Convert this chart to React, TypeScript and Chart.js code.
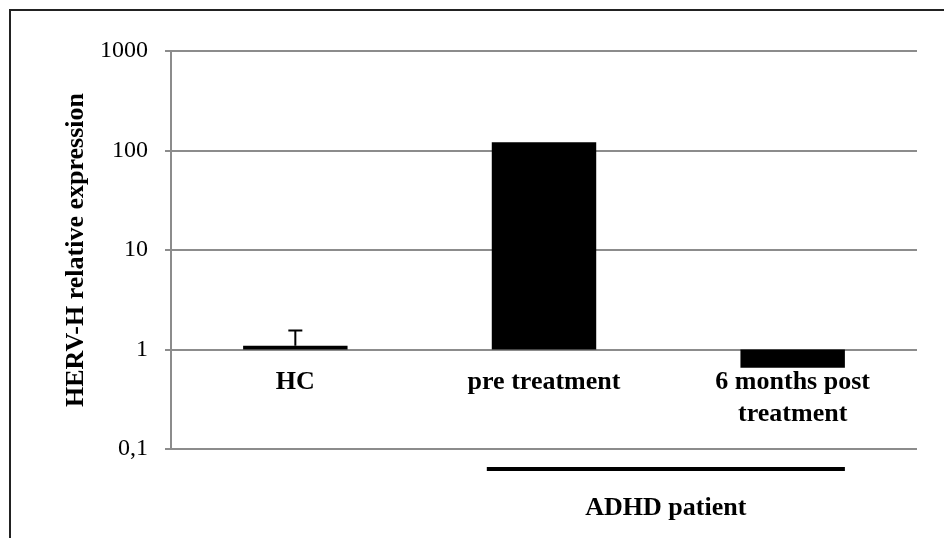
import React, { useEffect, useRef } from "react";
import { Chart, registerables } from "chart.js";

Chart.register(...registerables);

const CATEGORIES: (string | string[])[] = ["HC", "pre treatment", ["6 months post", "treatment"]];
const VALUES = [1.09, 121, 0.655];
const ERROR_TOP: (number | null)[] = [1.55, null, null];
const BAR_BASE = 1;
const Y_TICKS = [0.1, 1, 10, 100, 1000];
const Y_TICK_LABELS = ["0,1", "1", "10", "100", "1000"];
const Y_TITLE = "HERV-H relative expression";
const GROUP_LABEL = "ADHD patient";
const GROUP_FROM = 1;
const GROUP_TO = 2;

const FONT = "'Liberation Serif', 'Times New Roman', serif";
const GRID = "#8c8c8c";

const overlayPlugin = {
  id: "overlay",
  afterDatasetsDraw(chart: any) {
    const ctx = chart.ctx;
    const meta = chart.getDatasetMeta(0);
    const y = chart.scales.y;
    const x = chart.scales.x;
    ctx.save();
    ERROR_TOP.forEach((e, i) => {
      if (e == null) return;
      const bar = meta.data[i];
      const y1 = y.getPixelForValue(VALUES[i]);
      const y2 = y.getPixelForValue(e);
      ctx.strokeStyle = "#000";
      ctx.lineWidth = 2;
      ctx.beginPath();
      ctx.moveTo(bar.x, y1);
      ctx.lineTo(bar.x, y2);
      ctx.moveTo(bar.x - 7, y2);
      ctx.lineTo(bar.x + 7, y2);
      ctx.stroke();
    });
    const catW = (chart.chartArea.right - chart.chartArea.left) / CATEGORIES.length;
    const gx1 = x.getPixelForValue(GROUP_FROM) - catW * 0.23;
    const gx2 = x.getPixelForValue(GROUP_TO) + catW * 0.21;
    const gy = chart.chartArea.bottom + 20;
    ctx.fillStyle = "#000";
    ctx.fillRect(gx1, gy - 2, gx2 - gx1, 4);
    ctx.font = `bold 26px ${FONT}`;
    ctx.textAlign = "center";
    ctx.textBaseline = "middle";
    ctx.fillText(GROUP_LABEL, (gx1 + gx2) / 2, gy + 39);
    ctx.restore();
  },
};

export default function App() {
  const ref = useRef<HTMLCanvasElement>(null);
  useEffect(() => {
    if (!ref.current) return;
    const chart = new Chart(ref.current, {
      type: "bar",
      data: {
        labels: CATEGORIES as any,
        datasets: [
          {
            data: VALUES.map((v) => [BAR_BASE, v]) as any,
            backgroundColor: "#000",
            borderWidth: 0,
            barPercentage: 0.42,
            categoryPercentage: 1,
          },
        ],
      },
      options: {
        responsive: false,
        animation: false,
        devicePixelRatio: 1,
        layout: { padding: { left: 61, top: 51, right: 27, bottom: 89 } },
        plugins: { legend: { display: false }, tooltip: { enabled: false } },
        scales: {
          x: {
            position: { y: 1 } as any,
            grid: { display: false, drawTicks: false },
            border: { display: false },
            ticks: {
              color: "#000",
              padding: 17,
              maxRotation: 0,
              autoSkip: false,
              font: { family: FONT, size: 26, weight: "bold", lineHeight: 1.23 },
            },
          },
          y: {
            type: "logarithmic",
            min: 0.1,
            max: 1000,
            afterBuildTicks: (s: any) => {
              s.ticks = Y_TICKS.map((v) => ({ value: v }));
            },
            afterFit: (s: any) => {
              s.width = 110;
            },
            grid: { color: GRID, lineWidth: 2, tickLength: 6, drawTicks: true },
            border: { color: GRID, width: 2 },
            ticks: {
              color: "#000",
              padding: 17,
              font: { family: FONT, size: 24 },
              callback: (v: any) => {
                const i = Y_TICKS.indexOf(Number(v));
                return i >= 0 ? Y_TICK_LABELS[i] : "";
              },
            },
            title: {
              display: true,
              text: Y_TITLE,
              color: "#000",
              padding: 0,
              font: { family: FONT, size: 26, weight: "bold" },
            },
          },
        },
      },
      plugins: [overlayPlugin],
    });
    return () => chart.destroy();
  }, []);
  return (
    <div style={{ position: "absolute", left: 0, top: 0, width: 944, height: 538, background: "#fff", overflow: "hidden" }}>
      <div
        style={{
          position: "absolute",
          left: 9,
          top: 9,
          width: 960,
          height: 560,
          borderLeft: "2px solid #222",
          borderTop: "2px solid #222",
        }}
      />
      <canvas ref={ref} width={944} height={538} style={{ position: "absolute", left: 0, top: 0 }} />
    </div>
  );
}
